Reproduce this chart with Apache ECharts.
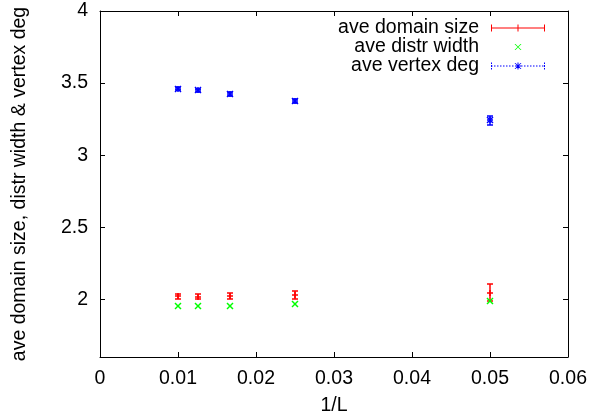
<!DOCTYPE html>
<html>
<head>
<meta charset="utf-8">
<script src="https://cdn.jsdelivr.net/npm/echarts@6/dist/echarts.min.js"></script>
<style>
  html, body { margin: 0; padding: 0; background: #fff; }
  #main { width: 602px; height: 414px; }
</style>
</head>
<body>
<div id="main"></div>
<script>
// 1/L for L = 100, 80, 60, 40, 20
var invL = [0.01, 0.0125, 0.016667, 0.025, 0.05];
var domainSize = [2.020, 2.019, 2.024, 2.031, 2.047];
var domainErr = [0.015, 0.017, 0.023, 0.030, 0.060];
var distrWidth = [1.956, 1.956, 1.956, 1.968, 1.991];
var distrErr = [0, 0, 0, 0, 0];
var vertexDeg = [3.462, 3.450, 3.425, 3.378, 3.241];
var vertexErr = [0.012, 0.012, 0.012, 0.014, 0.032];
var yTicks = [2, 2.5, 3, 3.5, 4];

var FONT = 'Liberation Sans';
var FS = 19.5;
var RED = '#ff0000', GREEN = '#00ff00', BLUE = '#0000ff';

var myChart = echarts.init(document.getElementById('main'));

function rows(ys, es) {
  return invL.map(function (x, i) { return [x, ys[i], es[i]]; });
}

// error bar + gnuplot style point (plus / cross / star)
function errRender(kind, color) {
  return function (params, api) {
    var x = api.value(0), y = api.value(1), e = api.value(2);
    var p = api.coord([x, y]);
    var segs = [];
    function ln(x1, y1, x2, y2) { segs.push([x1, y1, x2, y2]); }
    var cx = Math.round(p[0]), cy = Math.round(p[1]);
    if (e > 0) {
      var t = Math.round(api.coord([x, y + e])[1]);
      var b = Math.round(api.coord([x, y - e])[1]);
      ln(cx, t, cx, b);
      ln(cx - 3, t, cx + 3, t);
      ln(cx - 3, b, cx + 3, b);
    }
    var h = 3;
    if (kind === 'plus' || kind === 'star') {
      ln(cx - h, cy, cx + h, cy);
      ln(cx, cy - h, cx, cy + h);
    }
    if (kind === 'cross' || kind === 'star') {
      ln(cx - h, cy - h, cx + h, cy + h);
      ln(cx - h, cy + h, cx + h, cy - h);
    }
    return {
      type: 'group',
      children: segs.map(function (q) {
        return {
          type: 'line',
          shape: {x1: q[0], y1: q[1], x2: q[2], y2: q[3]},
          style: {stroke: color, lineWidth: 1.5}
        };
      })
    };
  };
}

// legend samples (icon box 61 x 7, sample drawn from 7 to 61)
var box = 'M0,0 M61,7 ';
var redIcon = 'path://' + box + 'M7,3H61V4H7Z M7,0H8V7H7Z M60,0H61V7H60Z M33.5,0H34.5V7H33.5Z';
var greenIcon = 'path://' + box +
  'M30.5,0.5L31.5,0.5L37.5,6.5L36.5,6.5Z M36.5,0.5L37.5,0.5L31.5,6.5L30.5,6.5Z';
var blueIcon = 'path://' + box;
for (var k = 7; k < 61; k += 3) {
  blueIcon += 'M' + k + ',3H' + (k + 1.5) + 'V4H' + k + 'Z ';
}
blueIcon += 'M7,0H8V1.5H7Z M7,2.5H8V4.5H7Z M7,5.5H8V7H7Z ' +
  'M60,0H61V1.5H60Z M60,2.5H61V4.5H60Z M60,5.5H61V7H60Z ' +
  'M33.5,0H34.5V7H33.5Z M31,3H37V4H31Z ' +
  'M30.5,0.5L31.5,0.5L37.5,6.5L36.5,6.5Z M36.5,0.5L37.5,0.5L31.5,6.5L30.5,6.5Z';

var txt = {color: '#000', fontFamily: FONT, fontSize: FS};

function xAx(pos, labels) {
  return {
    type: 'value', position: pos, min: 0, max: 0.06, interval: 0.01,
    name: labels ? '1/L' : '', nameLocation: 'middle', nameGap: 39,
    nameTextStyle: txt,
    axisLine: {show: true, onZero: false, lineStyle: {color: '#000', width: 1}},
    axisTick: {show: true, inside: true, length: 5, lineStyle: {color: '#000'}},
    axisLabel: Object.assign({show: labels, margin: 12}, txt),
    splitLine: {show: false}
  };
}

function yAx(pos, labels) {
  return {
    type: 'value', position: pos, min: 1.6, max: 4,
    name: labels ? 'ave domain size, distr width & vertex deg' : '',
    nameLocation: 'middle', nameGap: 70, nameTextStyle: txt,
    axisLine: {show: true, onZero: false, lineStyle: {color: '#000', width: 1}},
    axisTick: {show: true, inside: true, length: 5, customValues: yTicks, lineStyle: {color: '#000'}},
    axisLabel: Object.assign({show: labels, margin: 12, customValues: yTicks}, txt),
    splitLine: {show: false}
  };
}

var option = {
  animation: false,
  backgroundColor: '#fff',
  grid: {left: 100, right: 34, top: 11, bottom: 57, containLabel: false, outerBoundsMode: 'none'},
  legend: {
    orient: 'vertical', right: 57, top: 18, padding: 0, itemGap: -1,
    align: 'right', itemWidth: 61, itemHeight: 7, selectedMode: false,
    textStyle: Object.assign({lineHeight: 19.5}, txt),
    itemStyle: {borderWidth: 0},
    data: [
      {name: 'ave domain size', icon: redIcon, itemStyle: {color: RED}},
      {name: 'ave distr width', icon: greenIcon, itemStyle: {color: GREEN}},
      {name: 'ave vertex deg', icon: blueIcon, itemStyle: {color: BLUE}}
    ]
  },
  xAxis: [xAx('bottom', true), xAx('top', false)],
  yAxis: [yAx('left', true), yAx('right', false)],
  series: [
    {
      name: 'ave domain size', type: 'custom', renderItem: errRender('plus', RED),
      itemStyle: {color: RED}, encode: {x: 0, y: 1}, clip: false, silent: true,
      data: rows(domainSize, domainErr)
    },
    {
      name: 'ave distr width', type: 'custom', renderItem: errRender('cross', GREEN),
      itemStyle: {color: GREEN}, encode: {x: 0, y: 1}, clip: false, silent: true,
      data: rows(distrWidth, distrErr)
    },
    {
      name: 'ave vertex deg', type: 'custom', renderItem: errRender('star', BLUE),
      itemStyle: {color: BLUE}, encode: {x: 0, y: 1}, clip: false, silent: true,
      data: rows(vertexDeg, vertexErr)
    }
  ]
};

myChart.setOption(option);
</script>
</body>
</html>
